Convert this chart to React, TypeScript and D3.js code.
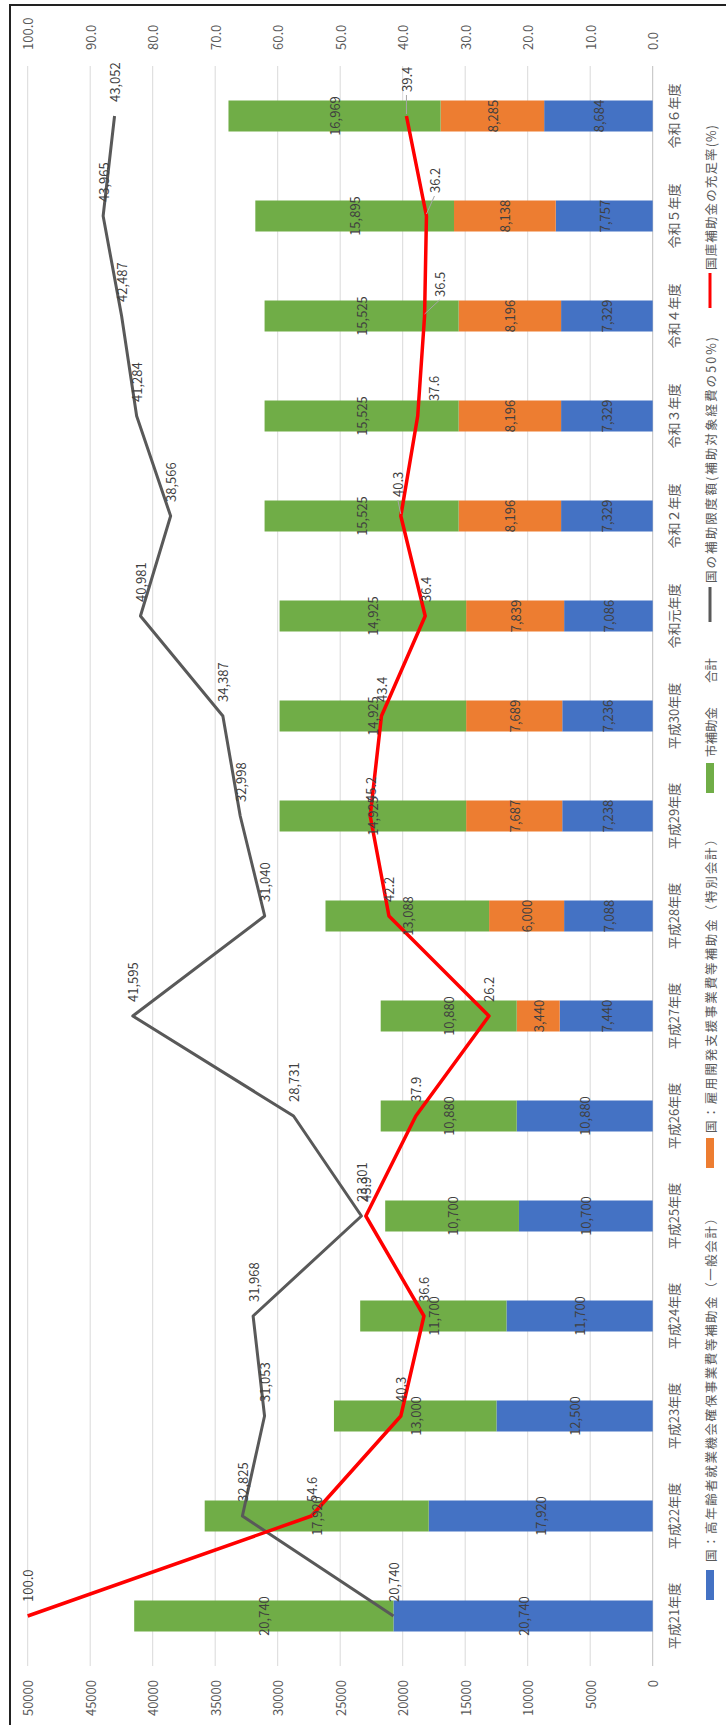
import React from 'react';
import * as d3 from 'd3';

const categories = ['平成21年度','平成22年度','平成23年度','平成24年度','平成25年度','平成26年度','平成27年度','平成28年度','平成29年度','平成30年度','令和元年度','令和２年度','令和３年度','令和４年度','令和５年度','令和６年度'];
const subsidyGeneral = [20740,17920,12500,11700,10700,10880,7440,7088,7238,7236,7086,7329,7329,7329,7757,8684];
const subsidySpecial = [0,0,0,0,0,0,3440,6000,7687,7689,7839,8196,8196,8196,8138,8285];
const citySubsidy = [20740,17920,13000,11700,10700,10880,10880,13088,14925,14925,14925,15525,15525,15525,15895,16969];
const limitAmount = [20740,32825,31053,31968,23301,28731,41595,31040,32998,34387,40981,38566,41284,42487,43965,43052];
const sufficiencyRate = [100.0,54.6,40.3,36.6,45.9,37.9,26.2,42.2,45.2,43.4,36.4,40.3,37.6,36.5,36.2,39.4];
const leftTicks = [0,5000,10000,15000,20000,25000,30000,35000,40000,45000,50000];
const rightTicks = [0,10,20,30,40,50,60,70,80,90,100];

const seriesNames = ['国：高年齢者就業機会確保事業費等補助金（一般会計）','国：雇用開発支援事業費等補助金（特別会計）','市補助金','合計','国の補助限度額(補助対象経費の50%)','国庫補助金の充足率(%)'];
const colors = ['#4472C4','#ED7D31','#70AD47','none','#595959','#FF0000'];

// label placement tweaks for the rate line (index -> [du, dv])
const rateLabelShift: Record<number, [number, number]> = {11:[19,-3],12:[15,16],13:[19,15],14:[23,8],15:[24,0]};

const JP = '"Noto Sans CJK JP", "Noto Sans", sans-serif';

export default function App() {
  const W = 1725, H = 726;
  const x = d3.scaleBand<string>().domain(categories).range([59, 1659]).paddingInner(0.69).paddingOuter(0.345);
  const y = d3.scaleLinear().domain([0, 50000]).range([652.7, 27.7]);
  const y2 = d3.scaleLinear().domain([0, 100]).range([652.7, 27.7]);
  const cx = (i: number) => (x(categories[i]) as number) + x.bandwidth() / 2;
  const rows = categories.map((c, i) => ({ cat: c, general: subsidyGeneral[i], special: subsidySpecial[i], city: citySubsidy[i] }));
  const stack = d3.stack<any>().keys(['general', 'special', 'city'])(rows);
  const limitPath = d3.line<number>().x((_, i) => cx(i)).y(d => y(d))(limitAmount) as string;
  const ratePath = d3.line<number>().x((_, i) => cx(i)).y(d => y2(d))(sufficiencyRate) as string;
  const fmt = d3.format(',');

  // legend layout (u start of marker, text start, text length)
  const legend = [
    { m: 125, t: 163, len: 350, kind: 'rect' },
    { m: 557, t: 592, len: 300, kind: 'rect' },
    { m: 932, t: 968, len: 0, kind: 'rect' },
    { m: 1030, t: 1042, len: 0, kind: 'none' },
    { m: 1103, t: 1142, len: 246, kind: 'line' },
    { m: 1417, t: 1455, len: 145, kind: 'line' },
  ];
  const legendV = 710;

  return (
    <svg width={726} height={1725} style={{ position: 'absolute', left: 0, top: 0, background: '#fff' }}>
      <rect x={0} y={0} width={726} height={1725} fill="#fff" />
      <g transform={`translate(0,${W}) rotate(-90)`}>
        {/* border */}
        <path d={`M0,10 L1720,10 L1720,${H}`} fill="none" stroke="#222" strokeWidth={2} />
        {/* gridlines */}
        {leftTicks.map(t => (
          <line key={'g' + t} x1={59} x2={1659} y1={y(t)} y2={y(t)} stroke={t === 0 ? '#bfbfbf' : '#d9d9d9'} strokeWidth={1} />
        ))}
        {/* left axis labels */}
        {leftTicks.map(t => (
          <text key={'l' + t} x={45} y={y(t)} textAnchor="end" dominantBaseline="central" fontSize={13} fill="#595959" fontFamily={JP}>{t}</text>
        ))}
        {/* right axis labels */}
        {rightTicks.map(t => (
          <text key={'r' + t} x={1675} y={y2(t)} textAnchor="start" dominantBaseline="central" fontSize={13} fill="#595959" fontFamily={JP}>{t.toFixed(1)}</text>
        ))}
        {/* category labels */}
        {categories.map((c, i) => (
          <text key={'c' + i} x={cx(i)} y={673} textAnchor="middle" dominantBaseline="central" fontSize={13} fill="#595959" fontFamily={JP}>{c}</text>
        ))}
        {/* bars */}
        {stack.map((s, si) => (
          <g key={'s' + si} fill={colors[si]}>
            {s.map((d, i) => d[1] - d[0] > 0 ? (
              <rect key={i} x={x(categories[i]) as number} width={x.bandwidth()} y={y(d[1])} height={y(d[0]) - y(d[1])} />
            ) : null)}
          </g>
        ))}
        {/* lines */}
        <path d={limitPath} fill="none" stroke={colors[4]} strokeWidth={3} strokeLinejoin="round" />
        <path d={ratePath} fill="none" stroke={colors[5]} strokeWidth={3.5} strokeLinejoin="round" />
        {/* bar labels */}
        {stack.map((s, si) => s.map((d, i) => d[1] - d[0] > 0 ? (
          <text key={'bl' + si + '-' + i} x={cx(i)} y={(y(d[0]) + y(d[1])) / 2} textAnchor="middle" dominantBaseline="central" fontSize={13} fill="#404040" fontFamily={JP}>{fmt(d[1] - d[0])}</text>
        ) : null))}
        {/* limit labels */}
        {limitAmount.map((v, i) => (
          <text key={'ll' + i} x={cx(i) + 14} y={y(v)} textAnchor="start" dominantBaseline="central" fontSize={13} fill="#404040" fontFamily={JP}>{fmt(v)}</text>
        ))}
        {/* rate labels */}
        {sufficiencyRate.map((v, i) => {
          const sh = rateLabelShift[i] || [14, 0];
          const px = cx(i), py = y2(v);
          return (
            <g key={'rl' + i}>
              {sh[0] > 16 ? <line x1={px + 2} y1={py} x2={px + sh[0] - 3} y2={py + sh[1]} stroke="#a6a6a6" strokeWidth={1} /> : null}
              <text x={px + sh[0]} y={py + sh[1]} textAnchor="start" dominantBaseline="central" fontSize={13} fill="#404040" fontFamily={JP}>{v.toFixed(1)}</text>
            </g>
          );
        })}
        {/* legend */}
        {legend.map((l, i) => (
          <g key={'lg' + i}>
            {l.kind === 'rect' ? <rect x={l.m} y={legendV - 4} width={30} height={8} fill={colors[i]} /> : null}
            {l.kind === 'line' ? <line x1={l.m} x2={l.m + 35} y1={legendV} y2={legendV} stroke={colors[i]} strokeWidth={3} /> : null}
            {l.len > 0 ? (
              <text x={l.t} y={legendV} dominantBaseline="central" fontSize={12.5} fill="#595959" fontFamily={JP} textLength={l.len} lengthAdjust="spacing">{seriesNames[i]}</text>
            ) : (
              <text x={l.t} y={legendV} dominantBaseline="central" fontSize={12.5} fill="#595959" fontFamily={JP}>{seriesNames[i]}</text>
            )}
          </g>
        ))}
      </g>
    </svg>
  );
}
